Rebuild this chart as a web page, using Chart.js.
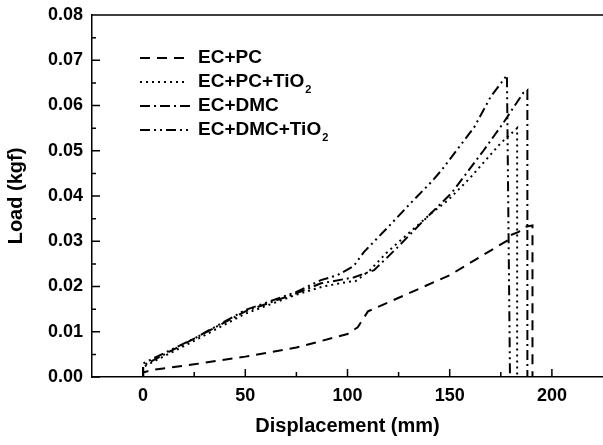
<!DOCTYPE html>
<html>
<head>
<meta charset="utf-8">
<script src="https://cdn.jsdelivr.net/npm/chart.js@4"></script>
<style>
  html, body { margin: 0; padding: 0; background: #fff; }
  #wrap { width: 603px; height: 445px; }
</style>
</head>
<body>
<div id="wrap"><canvas id="myChart"></canvas></div>
<script>
// series names (the "2" of TiO2 is drawn as a subscript in the legend)
const seriesNames = ["EC+PC", "EC+PC+TiO2", "EC+DMC", "EC+DMC+TiO2"];

// EC+PC (dashed)
const pcX = [0, 0, 5, 25, 50, 75, 100, 105, 110, 120, 150, 178.7, 179, 183.5, 187, 190.5, 190.5];
const pcY = [0, 0.001, 0.0016, 0.0028, 0.0045, 0.0065, 0.0095, 0.011, 0.0145, 0.0165, 0.0225, 0.0303, 0.0312, 0.032, 0.0332, 0.0335, 0];

// EC+PC+TiO2 (dotted)
const pcTiX = [0, 0, 25, 50, 75, 88, 100, 104, 111, 119, 141, 149, 160, 175, 183, 183];
const pcTiY = [0, 0.0022, 0.008, 0.014, 0.0182, 0.020, 0.021, 0.0212, 0.0236, 0.0274, 0.0362, 0.039, 0.044, 0.0517, 0.055, 0];

// EC+DMC (dash-dot)
const dmcX = [0, 0, 25, 50, 75, 87, 103, 113, 124.6, 136, 151, 166.5, 176, 186, 188, 188];
const dmcY = [0, 0.0025, 0.0085, 0.0145, 0.0185, 0.0207, 0.022, 0.0236, 0.0287, 0.034, 0.0407, 0.050, 0.056, 0.0628, 0.0634, 0];

// EC+DMC+TiO2 (dash-dot-dot)
const dmcTiX = [0, 0, 25, 50, 75, 87, 95, 103, 108, 120, 130, 141, 146, 162, 170, 178, 179.5];
const dmcTiY = [0, 0.003, 0.0085, 0.0148, 0.0188, 0.0214, 0.0225, 0.0245, 0.0276, 0.0332, 0.038, 0.0431, 0.0457, 0.0552, 0.0619, 0.0667, 0];

const dashes = [[10, 7], [2, 4], [10, 4, 2, 4], [10, 4, 2, 4, 2, 4]];

// axes
const xTicks = [0, 50, 100, 150, 200];
const xMinor = [25, 75, 125, 175];
const yTicks = [0, 0.01, 0.02, 0.03, 0.04, 0.05, 0.06, 0.07, 0.08];
const yMinor = [0.005, 0.015, 0.025, 0.035, 0.045, 0.055, 0.065, 0.075];

const toPoints = (xs, ys) => xs.map((x, i) => ({ x: x, y: ys[i] }));
const allX = [pcX, pcTiX, dmcX, dmcTiX];
const allY = [pcY, pcTiY, dmcY, dmcTiY];

const FONT = "'Liberation Sans', Arial, sans-serif";

// inward ticks, top frame line and the hand-drawn legend
const framePlugin = {
  id: "frame",
  afterDraw(chart) {
    const ctx = chart.ctx;
    const a = chart.chartArea;
    const xs = chart.scales.x, ys = chart.scales.y;
    ctx.save();
    ctx.strokeStyle = "#000";
    ctx.lineWidth = 1.5;
    ctx.setLineDash([]);
    ctx.beginPath();
    ctx.moveTo(a.left, a.top);
    ctx.lineTo(a.right, a.top);
    xTicks.forEach(v => { const p = xs.getPixelForValue(v); ctx.moveTo(p, a.bottom); ctx.lineTo(p, a.bottom - 8); });
    xMinor.forEach(v => { const p = xs.getPixelForValue(v); ctx.moveTo(p, a.bottom); ctx.lineTo(p, a.bottom - 5); });
    yTicks.forEach(v => { const p = ys.getPixelForValue(v); ctx.moveTo(a.left, p); ctx.lineTo(a.left + 8, p); });
    yMinor.forEach(v => { const p = ys.getPixelForValue(v); ctx.moveTo(a.left, p); ctx.lineTo(a.left + 4, p); });
    ctx.stroke();

    // legend
    const rows = [58, 82, 106, 130];
    ctx.lineWidth = 2;
    ctx.fillStyle = "#000";
    ctx.textBaseline = "middle";
    seriesNames.forEach((name, i) => {
      const y = rows[i];
      ctx.setLineDash(dashes[i]);
      ctx.beginPath();
      ctx.moveTo(140, y);
      ctx.lineTo(i === 2 ? 193 : 188, y);
      ctx.stroke();
      let x = 198;
      ctx.font = "bold 19px " + FONT;
      if (name.endsWith("2")) {
        const main = name.slice(0, -1);
        ctx.fillText(main, x, y);
        x += ctx.measureText(main).width + 1;
        ctx.font = "bold 11px " + FONT;
        ctx.fillText("2", x, y + 8);
      } else {
        ctx.fillText(name, x, y);
      }
    });
    ctx.restore();
  }
};

const ctx = document.getElementById("myChart");

new Chart(ctx, {
  type: "line",
  data: {
    datasets: seriesNames.map((name, i) => ({
      label: name,
      data: toPoints(allX[i], allY[i]),
      borderColor: "#000",
      borderWidth: 2,
      borderDash: dashes[i],
      pointRadius: 0,
      tension: 0,
      fill: false
    }))
  },
  options: {
    responsive: true,
    maintainAspectRatio: false,
    animation: false,
    layout: { padding: { top: 15, right: 0, left: 0, bottom: 0 } },
    plugins: { legend: { display: false }, tooltip: { enabled: false } },
    scales: {
      x: {
        type: "linear",
        min: -25,
        max: 225,
        afterBuildTicks: s => { s.ticks = xTicks.map(v => ({ value: v })); },
        afterFit: s => { s.height = 68; s.paddingLeft = 0; s.paddingRight = 0; },
        grid: { display: true, drawOnChartArea: false, drawTicks: false },
        border: { display: true, color: "#000", width: 1.5 },
        ticks: {
          padding: 8,
          color: "#000",
          font: { family: FONT, size: 18, weight: "bold" },
          maxRotation: 0
        },
        title: {
          display: true,
          text: "Displacement (mm)",
          color: "#000",
          font: { family: FONT, size: 20, weight: "bold" },
          padding: { top: 2, bottom: 7 }
        }
      },
      y: {
        type: "linear",
        min: 0,
        max: 0.08,
        afterBuildTicks: s => { s.ticks = yTicks.map(v => ({ value: v })); },
        afterFit: s => { s.width = 92; s.paddingTop = 0; s.paddingBottom = 0; },
        grid: { display: true, drawOnChartArea: false, drawTicks: false },
        border: { display: true, color: "#000", width: 1.5 },
        ticks: {
          padding: 9,
          color: "#000",
          font: { family: FONT, size: 18, weight: "bold" },
          callback: v => v.toFixed(2)
        },
        title: {
          display: true,
          text: "Load (kgf)",
          color: "#000",
          font: { family: FONT, size: 20, weight: "bold" },
          padding: { top: 4, bottom: 2 }
        }
      }
    }
  },
  plugins: [framePlugin]
});
</script>
</body>
</html>
